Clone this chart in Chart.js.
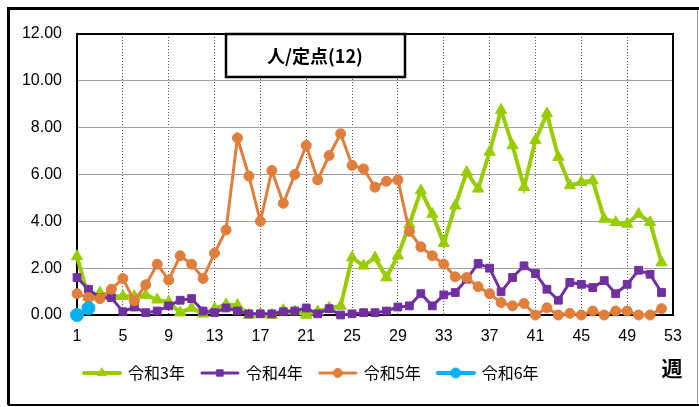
<!DOCTYPE html>
<html><head><meta charset="utf-8">
<script src="https://cdn.jsdelivr.net/npm/chart.js@4.4.0/dist/chart.umd.min.js"></script>
<style>html,body{margin:0;padding:0;background:#fff;overflow:hidden;}</style>
</head><body>
<canvas id="c" width="699" height="407"></canvas>
<script>
const weeks = [1,2,3,4,5,6,7,8,9,10,11,12,13,14,15,16,17,18,19,20,21,22,23,24,25,26,27,28,29,30,31,32,33,34,35,36,37,38,39,40,41,42,43,44,45,46,47,48,49,50,51,52];
const seriesNames = ['令和3年','令和4年','令和5年','令和6年'];
const r3 = [2.5,0.75,0.95,0.8,0.8,0.8,0.85,0.65,0.55,0.1,0.3,0.05,0.27,0.45,0.42,0.0,0.03,0.0,0.2,0.15,0.0,0.15,0.3,0.38,2.45,2.1,2.45,1.6,2.53,3.86,5.31,4.31,3.06,4.67,6.1,5.39,6.96,8.75,7.24,5.46,7.46,8.6,6.74,5.53,5.67,5.74,4.1,3.96,3.89,4.31,3.96,2.24];
const r4 = [1.6,1.1,0.74,0.74,0.14,0.34,0.1,0.17,0.39,0.63,0.7,0.17,0.1,0.3,0.17,0.05,0.05,0.05,0.14,0.17,0.3,0.05,0.27,0.0,0.05,0.1,0.1,0.17,0.34,0.39,0.91,0.39,0.86,0.96,1.53,2.2,2.0,0.99,1.6,2.1,1.77,1.1,0.63,1.39,1.31,1.17,1.47,0.91,1.31,1.91,1.74,0.96];
const r5 = [0.91,0.75,0.7,1.1,1.56,0.6,1.29,2.17,1.49,2.53,2.17,1.56,2.64,3.63,7.56,5.93,4.0,6.17,4.77,6.0,7.24,5.77,6.81,7.74,6.39,6.24,5.46,5.71,5.77,3.57,2.91,2.53,2.17,1.63,1.6,1.21,0.91,0.53,0.39,0.49,0.0,0.31,0.0,0.07,0.0,0.17,0.0,0.17,0.17,0.0,0.0,0.27];
const r6 = [0.0,0.29];
const xTicks = [1,5,9,13,17,21,25,29,33,37,41,45,49,53];
const yTicks = [0,2,4,6,8,10,12];
const titleText = '人/定点(12)';
const axisUnit = '週';

const colors = ['#99CC00','#7030A0','#E07E3C','#00B0F0'];
const styles = ['triangle','rect','circle','circle'];
const lineWidths = [4,3,3,4];
const radii = [6.5,5.5,5,6.5];
const legendRadii = [5,4.5,4.5,5];

function pts(arr){ return arr.map((v,i)=>({x:weeks[i], y:v})); }
const seriesData = [r3,r4,r5,r6];

function makeIcon(i){
  const cv = document.createElement('canvas');
  cv.width = 40; cv.height = 14;
  const c = cv.getContext('2d');
  c.strokeStyle = colors[i]; c.fillStyle = colors[i];
  c.lineWidth = lineWidths[i]; c.lineCap = 'round';
  c.beginPath(); c.moveTo(2,7); c.lineTo(38,7); c.stroke();
  c.lineWidth = 1;
  Chart.helpers.drawPoint(c, {pointStyle: styles[i], radius: legendRadii[i], rotation: 0, borderWidth: 1}, 20, 7);
  return cv;
}

const framePlugin = {
  id: 'frame',
  beforeDraw(chart){
    const c = chart.ctx;
    c.save();
    c.fillStyle = '#fff'; c.fillRect(0,0,chart.width,chart.height);
    c.strokeStyle = '#000';
    c.lineWidth = 3;
    c.beginPath(); c.moveTo(8.5,405); c.lineTo(8.5,8.5); c.lineTo(699,8.5); c.stroke();
    c.lineWidth = 2;
    c.beginPath(); c.moveTo(8,405); c.lineTo(699,405); c.stroke();
    c.strokeStyle = '#999'; c.lineWidth = 1;
    c.beginPath(); c.moveTo(697.5,10); c.lineTo(697.5,404); c.stroke();
    c.restore();
  },
  afterLayout(chart){
    const lg = chart.legend;
    if (lg) { lg.left += 67; lg.right += 67; }
  },
  beforeDatasetsDraw(chart){
    const a = chart.chartArea, c = chart.ctx;
    c.save();
    c.strokeStyle = '#000'; c.lineWidth = 2;
    c.strokeRect(a.left, a.top, a.right - a.left, a.bottom - a.top);
    c.restore();
  },
  afterDraw(chart){
    const c = chart.ctx;
    c.save();
    c.fillStyle = '#fff';
    c.fillRect(226,34,179,43);
    c.strokeStyle = '#000'; c.lineWidth = 2.5;
    c.strokeRect(226,34,179,43);
    c.fillStyle = '#000';
    c.font = 'bold 18px "Noto Sans CJK JP", sans-serif';
    c.textAlign = 'center'; c.textBaseline = 'middle';
    c.fillText(titleText, 315, 56);
    c.font = 'bold 21px "Noto Sans CJK JP", sans-serif';
    c.fillText(axisUnit, 672, 368);
    c.restore();
  }
};

new Chart(document.getElementById('c'), {
  type: 'line',
  data: {
    datasets: seriesNames.map((n,i)=>({
      label: n,
      data: pts(seriesData[i]),
      borderColor: colors[i],
      backgroundColor: colors[i],
      borderWidth: lineWidths[i],
      pointStyle: styles[i],
      pointRadius: radii[i],
      pointBorderWidth: 1,
      pointBackgroundColor: colors[i],
      pointBorderColor: colors[i],
      tension: 0,
      clip: false,
      order: 3 - i
    }))
  },
  options: {
    responsive: false,
    animation: false,
    devicePixelRatio: 1,
    layout: { padding: { top: 34, right: 26, left: 0, bottom: 16 } },
    scales: {
      x: {
        type: 'linear', min: 1, max: 53,
        afterBuildTicks(s){ s.ticks = xTicks.map(v=>({value:v})); },
        afterFit(s){ s.height = 33; },
        ticks: { autoSkip: false, maxRotation: 0, padding: 12, color: '#000', font: { family: '"Liberation Sans", Arial, sans-serif', size: 16 } },
        grid: { color: '#555', lineWidth: 1, drawTicks: false },
        border: { display: false, dash: [1,2] }
      },
      y: {
        min: 0, max: 12,
        afterBuildTicks(s){ s.ticks = yTicks.map(v=>({value:v})); },
        afterFit(s){ s.width = 77; },
        ticks: { padding: 15, color: '#000', font: { family: '"Liberation Sans", Arial, sans-serif', size: 16 }, callback: v => Number(v).toFixed(2) },
        grid: { color: '#a0a0a0', lineWidth: 1, drawTicks: false },
        border: { display: false }
      }
    },
    plugins: {
      tooltip: { enabled: false },
      legend: {
        position: 'bottom', align: 'start',
        labels: {
          usePointStyle: true, pointStyleWidth: 36, padding: 17,
          color: '#000',
          font: { family: '"Noto Sans CJK JP", sans-serif', size: 16 },
          sort: (a,b) => a.datasetIndex - b.datasetIndex,
          generateLabels(chart){
            return chart.data.datasets.map((d,i)=>({
              text: d.label, datasetIndex: i, pointStyle: makeIcon(i),
              fillStyle: colors[i], strokeStyle: colors[i], lineWidth: 0, hidden: false, fontColor: '#000'
            }));
          }
        }
      }
    }
  },
  plugins: [framePlugin]
});
</script>
</body></html>
